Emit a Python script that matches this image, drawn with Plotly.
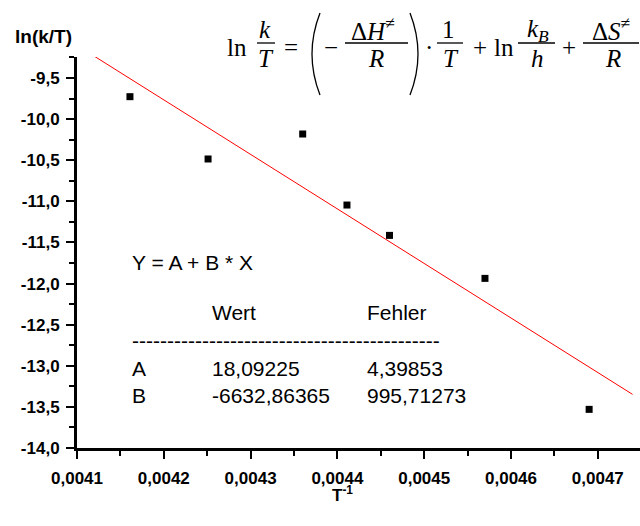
import plotly.graph_objects as go

# ---------------- data ----------------
inv_T = [0.004161, 0.004251, 0.004360, 0.004411, 0.004460, 0.004570, 0.004690]
ln_k_T = [-9.727, -10.485, -10.181, -11.045, -11.414, -11.937, -13.530]

fit_A = 18.09225
fit_B = -6632.86365
fit_A_err = 4.39853
fit_B_err = 995.71273
fit_x_span = [0.0041, 0.00474]

x_tick_vals = [0.0041, 0.0042, 0.0043, 0.0044, 0.0045, 0.0046, 0.0047]
x_tick_labels = ["0,0041", "0,0042", "0,0043", "0,0044", "0,0045", "0,0046", "0,0047"]
x_minor_vals = [0.00415, 0.00425, 0.00435, 0.00445, 0.00455, 0.00465]
y_tick_vals = [-14.0, -13.5, -13.0, -12.5, -12.0, -11.5, -11.0, -10.5, -10.0, -9.5]
y_tick_labels = ["-14,0", "-13,5", "-13,0", "-12,5", "-12,0", "-11,5", "-11,0", "-10,5", "-10,0", "-9,5"]
y_minor_vals = [-13.75, -13.25, -12.75, -12.25, -11.75, -11.25, -10.75, -10.25, -9.75, -9.25]

fit_y_span = [fit_A + fit_B * x for x in fit_x_span]


def de(v, n=5):
    return f"{v:.{n}f}".replace(".", ",")


# ---------------- layout helpers ----------------
L, R, T, B = 77, 640, 57, 448
W, H = R - L, B - T


def px(x):
    return (x - L) / W


def py(y):
    return (B - y) / H


fig = go.Figure()
fig.add_trace(go.Scatter(x=fit_x_span, y=fit_y_span, mode="lines",
                         line=dict(color="#ff0000", width=1), showlegend=False, hoverinfo="skip"))
fig.add_trace(go.Scatter(x=inv_T, y=ln_k_T, mode="markers",
                         marker=dict(symbol="square", size=7, color="black", line=dict(width=0)),
                         showlegend=False, cliponaxis=False))

tickfont = dict(family="Liberation Sans", size=17, color="black", weight="bold")
axis_common = dict(showline=True, linecolor="black", linewidth=3, ticks="outside", ticklen=8,
                   tickwidth=2, tickcolor="black", showgrid=False, zeroline=False,
                   tickfont=tickfont, tickmode="array", automargin=False)

fig.update_layout(
    width=640, height=526,
    margin=dict(l=L, r=640 - R, t=T, b=526 - B, pad=0, autoexpand=False),
    paper_bgcolor="white", plot_bgcolor="white",
    xaxis=dict(range=[0.0041, 0.0047486], tickvals=x_tick_vals, ticktext=x_tick_labels,
               ticklabelstandoff=5,
               minor=dict(tickmode="array", tickvals=x_minor_vals, ticks="outside", ticklen=5,
                          tickwidth=2, tickcolor="black"), **axis_common),
    yaxis=dict(range=[-14.0, -9.2445], tickvals=y_tick_vals, ticktext=y_tick_labels,
               ticklabelstandoff=3,
               minor=dict(tickmode="array", tickvals=y_minor_vals, ticks="outside", ticklen=5,
                          tickwidth=2, tickcolor="black"), **axis_common),
)

ann = []


def txt(text, x, y, size, family="Liberation Sans", xanchor="left", weight="normal"):
    ann.append(dict(text=text, x=px(x), y=py(y), xref="paper", yref="paper",
                    xanchor=xanchor, yanchor="middle", showarrow=False,
                    font=dict(family=family, size=size, color="black", weight=weight)))


# axis titles
txt("ln(k/T)", 13, 36, 19, weight="bold")
txt("T<sup>-1</sup>", 342, 494, 17, xanchor="center", weight="bold")

# regression table
tsz = 21
txt("Y = A + B * X", 130, 262, tsz)
txt("Wert", 210, 312, tsz)
txt("Fehler", 365, 312, tsz)
txt("-" * 44, 130, 340, tsz)
txt("A", 130, 368, tsz)
txt(de(fit_A), 210, 368, tsz)
txt(de(fit_A_err), 365, 368, tsz)
txt("B", 130, 395, tsz)
txt(de(fit_B), 210, 395, tsz)
txt(de(fit_B_err), 365, 395, tsz)

# equation
ef = "Liberation Serif"
es = 25
NUM, DEN, MID = 29, 59, 48
txt("ln", 237, MID, es, family=ef, xanchor="center")
txt("<i>k</i>", 265, NUM, es, family=ef, xanchor="center")
txt("<i>T</i>", 266, DEN, es, family=ef, xanchor="center")
txt("=", 291, MID - 1, es, family=ef, xanchor="center")
txt("\u2212", 331, MID, es, family=ef, xanchor="center")
txt("\u0394<i>H</i><sup>\u2260</sup>", 373, NUM, es, family=ef, xanchor="center")
txt("<i>R</i>", 376, DEN, es, family=ef, xanchor="center")
txt("\u00b7", 429, MID, es, family=ef, xanchor="center")
txt("1", 448, NUM, es, family=ef, xanchor="center")
txt("<i>T</i>", 451, DEN, es, family=ef, xanchor="center")
txt("+", 480, MID, es, family=ef, xanchor="center")
txt("ln", 504, MID, es, family=ef, xanchor="center")
txt("<i>k</i><sub><i>B</i></sub>", 538, NUM + 2, es, family=ef, xanchor="center")
txt("<i>h</i>", 537, DEN, es, family=ef, xanchor="center")
txt("+", 569, MID, es, family=ef, xanchor="center")
txt("\u0394<i>S</i><sup>\u2260</sup>", 611, NUM, es, family=ef, xanchor="center")
txt("<i>R</i>", 613, DEN, es, family=ef, xanchor="center")

fig.update_layout(annotations=ann)

shapes = []
for x0, x1 in [(257, 275), (345, 408), (437, 463), (518, 555), (583, 639)]:
    shapes.append(dict(type="line", xref="paper", yref="paper", x0=px(x0), x1=px(x1),
                       y0=py(43), y1=py(43), line=dict(color="black", width=1.3)))
# parentheses
for xe, xc in [(320, 304), (410, 426)]:
    path = f"M {px(xe)},{py(13)} Q {px(xc)},{py(54)} {px(xe)},{py(95)}"
    shapes.append(dict(type="path", xref="paper", yref="paper", path=path,
                       line=dict(color="black", width=1.3)))
fig.update_layout(shapes=shapes)

fig.write_html("out.html", config={"displayModeBar": False},
               post_script="document.body.style.margin='0';document.body.style.overflow='hidden';")
